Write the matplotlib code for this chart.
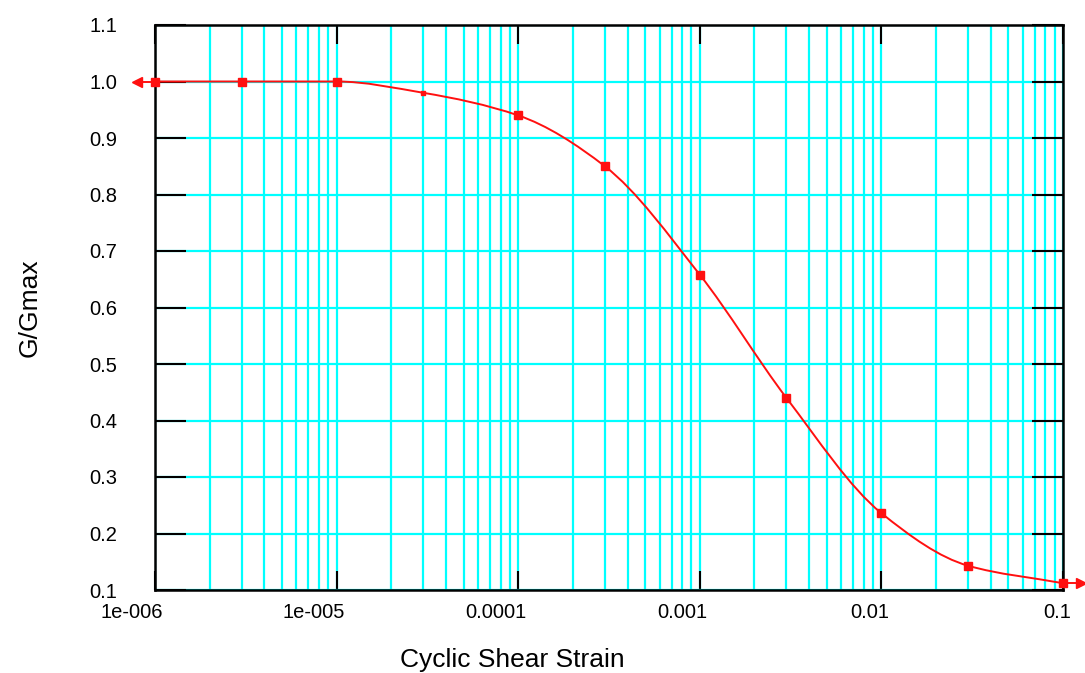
import numpy as np
import matplotlib
matplotlib.use("Agg")
import matplotlib.pyplot as plt
import matplotlib.transforms as mtransforms
from matplotlib.path import Path
from matplotlib.patches import PathPatch
from matplotlib.ticker import FixedLocator, FixedFormatter, LogLocator, NullFormatter

plt.rcParams['font.family'] = ['Liberation Sans', 'DejaVu Sans']

# Data
strain = [1e-6, 3e-6, 1e-5, 3e-5, 1e-4, 3e-4, 1e-3, 3e-3, 1e-2, 3e-2, 1e-1]
g_ratio = [1.0, 1.0, 1.0, 0.98, 0.94, 0.85, 0.658, 0.44, 0.236, 0.143, 0.112]

x_ticks = [1e-6, 1e-5, 1e-4, 1e-3, 1e-2, 1e-1]
x_labels = ['1e-006', '1e-005', '0.0001', '0.001', '0.01', '0.1']
y_ticks = [0.1, 0.2, 0.3, 0.4, 0.5, 0.6, 0.7, 0.8, 0.9, 1.0, 1.1]

red = '#ff1010'
cyan = '#00ffff'

fig = plt.figure(figsize=(10.85, 6.73), dpi=100)
ax = fig.add_axes([155 / 1085, 1 - 590 / 673, 908 / 1085, 565 / 673])

ax.set_xscale('log')
ax.set_xlim(1e-6, 1e-1)
ax.set_ylim(0.1, 1.1)

# grid: cyan verticals at every decade step, cyan horizontals at every 0.1
ax.xaxis.set_major_locator(FixedLocator(x_ticks))
ax.xaxis.set_major_formatter(FixedFormatter(x_labels))
ax.xaxis.set_minor_locator(LogLocator(base=10, subs=np.arange(2, 10)))
ax.xaxis.set_minor_formatter(NullFormatter())
ax.set_yticks(y_ticks)
ax.set_yticklabels([f'{v:.1f}' for v in y_ticks])

ax.grid(True, which='both', axis='x', color=cyan, lw=1.6)
ax.grid(True, which='major', axis='y', color=cyan, lw=1.6)
ax.set_axisbelow(True)

ax.tick_params(axis='x', which='major', direction='in', length=14, width=1.5,
               top=True, bottom=True, labelsize=14.5, pad=9, colors='black')
ax.tick_params(axis='x', which='minor', length=0)
ax.tick_params(axis='y', which='major', direction='in', length=22, width=1.5,
               left=True, right=True, labelsize=14.5, pad=27, colors='black')

# x tick labels sit slightly to the left, right-aligned near the tick
offset = mtransforms.ScaledTranslation(8 / 100, 0, fig.dpi_scale_trans)
for lbl in ax.get_xticklabels():
    lbl.set_horizontalalignment('right')
    lbl.set_transform(lbl.get_transform() + offset)

for sp in ax.spines.values():
    sp.set_linewidth(1.8)
    sp.set_color('black')

# smooth monotone curve (cubic Bezier in log-x space) through the points
lx = np.log10(strain)
gy = np.array(g_ratio)
n = len(strain)
h = np.diff(lx)
delta = np.diff(gy) / h
m = np.zeros(n)
m[0] = delta[0]
m[-1] = delta[-1]
for k in range(1, n - 1):
    if delta[k - 1] * delta[k] > 0:
        w1 = 2 * h[k] + h[k - 1]
        w2 = h[k] + 2 * h[k - 1]
        m[k] = (w1 + w2) / (w1 / delta[k - 1] + w2 / delta[k])
verts = [(strain[0], g_ratio[0])]
codes = [Path.MOVETO]
for i in range(n - 1):
    c1 = (lx[i] + h[i] / 3, gy[i] + m[i] * h[i] / 3)
    c2 = (lx[i + 1] - h[i] / 3, gy[i + 1] - m[i + 1] * h[i] / 3)
    verts += [(10 ** c1[0], c1[1]), (10 ** c2[0], c2[1]), (strain[i + 1], g_ratio[i + 1])]
    codes += [Path.CURVE4] * 3
ax.add_patch(PathPatch(Path(verts, codes), fill=False, edgecolor=red, lw=1.4,
                       zorder=3))

big = [i for i in range(n) if i != 3]
ax.plot([strain[i] for i in big], [g_ratio[i] for i in big], 's', color=red,
        ms=5.5, mec=red, zorder=4, clip_on=False)
ax.plot([strain[3]], [g_ratio[3]], 's', color=red, ms=3.5, zorder=4)

# end arrows going outside the frame
trans = mtransforms.blended_transform_factory(ax.transAxes, ax.transData)
ax.plot([0, -0.02], [g_ratio[0], g_ratio[0]], '-', color=red, lw=1.4,
        marker='<', markevery=[1], ms=7, transform=trans, clip_on=False, zorder=4)
ax.plot([1, 1.02], [g_ratio[-1], g_ratio[-1]], '-', color=red, lw=1.4,
        marker='>', markevery=[1], ms=7, transform=trans, clip_on=False, zorder=4)

ax.set_xlabel('Cyclic Shear Strain', fontsize=19)
ax.set_ylabel('G/Gmax', fontsize=19)
ax.xaxis.set_label_coords((512 - 155) / 908, -0.124)
ax.yaxis.set_label_coords((30 - 155) / 908, 0.5)
ax.xaxis.label.set_verticalalignment('center')
ax.yaxis.label.set_verticalalignment('center')

fig.savefig('out.png', dpi=100)
